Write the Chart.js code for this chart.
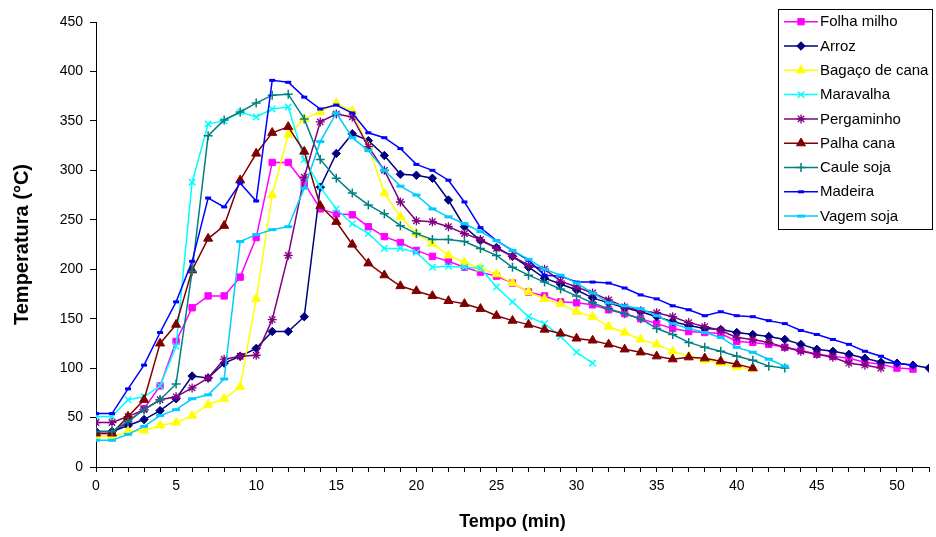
<!DOCTYPE html>
<html>
<head>
<meta charset="utf-8">
<script src="https://cdn.jsdelivr.net/npm/chart.js@4/dist/chart.umd.min.js"></script>
<style>
html,body{margin:0;padding:0;background:#fff;}
#wrap{width:936px;height:537px;position:relative;}
canvas{display:block;}
</style>
</head>
<body>
<div id="wrap"><canvas id="c" width="936" height="537"></canvas></div>
<script>
// ---- data (minutes and temperatures) ----
const tempo = [0,1,2,3,4,5,6,7,8,9,10,11,12,13,14,15,16,17,18,19,20,21,22,23,24,25,26,27,28,29,30,31,32,33,34,35,36,37,38,39,40,41,42,43,44,45,46,47,48,49,50,51,52];

const seriesNames = ["Folha milho","Arroz","Bagaço de cana","Maravalha","Pergaminho","Palha cana","Caule soja","Madeira","Vagem soja"];

const folhaMilho = [34,34,46,59,82,127,161,173,173,192,232,308,308,287,261,256,255,243,233,227,219,213,208,202,197,193,186,177,173,167,166,164,159,155,150,145,140,137,136,135,127,126,124,121,118,114,112,110,106,104,100,99];
const arroz = [36,36,42,48,57,69,92,90,105,112,120,137,137,152,283,317,337,330,315,296,295,292,270,243,229,222,213,202,191,185,179,171,166,161,157,152,147,143,140,139,136,134,132,129,124,119,117,114,110,106,105,103,100];
const bagacoCana = [31,31,36,37,42,45,52,63,69,81,170,275,336,352,359,368,360,324,277,253,236,226,214,207,201,195,186,177,170,165,157,152,142,136,129,124,117,112,108,105,101,99];
const maravalha = [51,51,68,71,82,122,288,347,350,359,354,362,364,311,283,261,246,236,221,221,217,202,203,202,201,182,167,152,145,132,116,105];
const pergaminho = [45,45,51,58,68,71,80,90,109,112,113,149,214,293,349,357,354,324,300,268,249,248,243,236,230,221,213,204,200,188,182,176,169,162,158,156,152,146,142,138,131,129,126,121,117,114,111,105,103,100];
const palhaCana = [34,34,51,68,125,144,199,231,244,290,317,338,344,319,264,248,225,206,194,183,178,173,168,165,160,153,148,144,139,135,130,128,124,119,116,112,109,111,110,107,104,100];
const cauleSoja = [36,36,46,58,68,84,198,335,351,359,368,376,377,352,311,292,277,265,256,244,236,230,230,228,221,214,202,194,187,180,173,166,160,155,150,140,134,126,121,117,112,108,102,100];
const madeira = [54,54,79,103,136,167,208,272,263,287,269,391,389,374,362,366,358,338,333,322,306,300,290,268,242,229,219,209,194,193,187,187,186,181,174,170,163,159,153,157,153,152,148,145,138,134,129,124,117,112,105,103];
const vagemSoja = [27,27,33,41,52,58,69,73,89,228,235,240,243,282,329,358,333,320,300,284,275,261,253,246,238,229,219,210,200,194,186,176,166,163,160,153,145,140,136,131,121,116,109,102];

const yTicks = [0,50,100,150,200,250,300,350,400,450];
const xLabelTicks = [0,5,10,15,20,25,30,35,40,45,50];

// ---- styles ----
const allValues = [folhaMilho, arroz, bagacoCana, maravalha, pergaminho, palhaCana, cauleSoja, madeira, vagemSoja];
const colors = ["#FF00FF","#000080","#FFFF00","#00FFFF","#800080","#800000","#008080","#0000FF","#00CCFF"];
const styles = ["rect","rectRot","triangle","crossRot","star","triangle","cross","line","line"];
const radii = [4.5,4.2,5.2,4.5,4.5,5.2,4.5,3,4];
const pbw = [1,1,1,1.5,1.3,1,1.5,3,3];

const datasets = allValues.map((vals, i) => ({
  label: seriesNames[i],
  data: vals.map((v, k) => ({x: tempo[k], y: v})),
  borderColor: colors[i],
  backgroundColor: colors[i],
  pointBackgroundColor: colors[i],
  pointBorderColor: colors[i],
  pointStyle: styles[i],
  pointRadius: radii[i],
  pointBorderWidth: pbw[i],
  borderWidth: 1.5,
  tension: 0,
  fill: false,
  order: allValues.length - i
}));

const FONT = "'Liberation Sans', Arial, sans-serif";

const legendBox = {
  id: 'legendBox',
  afterDraw(chart) {
    const ctx = chart.ctx;
    ctx.save();
    ctx.fillStyle = '#fff';
    ctx.fillRect(778.5, 9.5, 154, 220);
    ctx.strokeStyle = '#000';
    ctx.lineWidth = 1;
    ctx.strokeRect(778.5, 9.5, 154, 220);
    chart.data.datasets.forEach((ds, i) => {
      const y = 21.7 + i * 24.3;
      ctx.strokeStyle = ds.borderColor;
      ctx.lineWidth = 1.5;
      ctx.beginPath();
      ctx.moveTo(784, y);
      ctx.lineTo(818, y);
      ctx.stroke();
      ctx.fillStyle = ds.pointBackgroundColor;
      ctx.strokeStyle = ds.pointBorderColor;
      ctx.lineWidth = ds.pointBorderWidth;
      Chart.helpers.drawPoint(ctx, {pointStyle: ds.pointStyle, radius: ds.pointRadius, borderWidth: ds.pointBorderWidth, rotation: 0}, 801, y);
      ctx.fillStyle = '#000';
      ctx.font = "15px " + FONT;
      ctx.textBaseline = 'middle';
      ctx.textAlign = 'left';
      ctx.fillText(ds.label, 820, y + 0.5);
    });
    ctx.restore();
  }
};

const whiteBg = {
  id: 'whiteBg',
  beforeDraw(chart) {
    const ctx = chart.ctx;
    ctx.save();
    ctx.fillStyle = '#fff';
    ctx.fillRect(0, 0, chart.width, chart.height);
    ctx.restore();
  }
};

new Chart(document.getElementById('c'), {
  type: 'line',
  data: { datasets },
  options: {
    responsive: false,
    animation: false,
    devicePixelRatio: 1,
    layout: { padding: { left: 0, right: 6, top: 22, bottom: 0 } },
    plugins: { legend: { display: false }, tooltip: { enabled: false } },
    scales: {
      x: {
        type: 'linear',
        min: 0,
        max: 52,
        afterFit(scale) { scale.height = 70; },
        ticks: {
          stepSize: 1,
          autoSkip: false,
          maxRotation: 0,
          padding: 6,
          color: '#000',
          font: { family: FONT, size: 14 },
          callback: (v) => xLabelTicks.includes(v) ? String(v) : ''
        },
        grid: { display: true, drawOnChartArea: false, drawTicks: true, tickLength: 5, color: '#000' },
        border: { display: true, color: '#000', width: 1 },
        title: {
          display: true,
          text: 'Tempo (min)',
          color: '#000',
          font: { family: FONT, size: 18, weight: 'bold' },
          padding: { top: 0, bottom: 4 }
        }
      },
      y: {
        min: 0,
        max: 450,
        afterFit(scale) { scale.width = 96; },
        afterBuildTicks(scale) { scale.ticks = yTicks.map(v => ({value: v})); },
        ticks: {
          stepSize: 50,
          padding: 7,
          color: '#000',
          font: { family: FONT, size: 14 }
        },
        grid: { display: true, drawOnChartArea: false, drawTicks: true, tickLength: 6, color: '#000' },
        border: { display: true, color: '#000', width: 1 },
        title: {
          display: true,
          text: 'Temperatura (°C)',
          color: '#000',
          font: { family: FONT, size: 20, weight: 'bold' },
          padding: { top: 10, bottom: 0 }
        }
      }
    }
  },
  plugins: [whiteBg, legendBox]
});
</script>
</body>
</html>
